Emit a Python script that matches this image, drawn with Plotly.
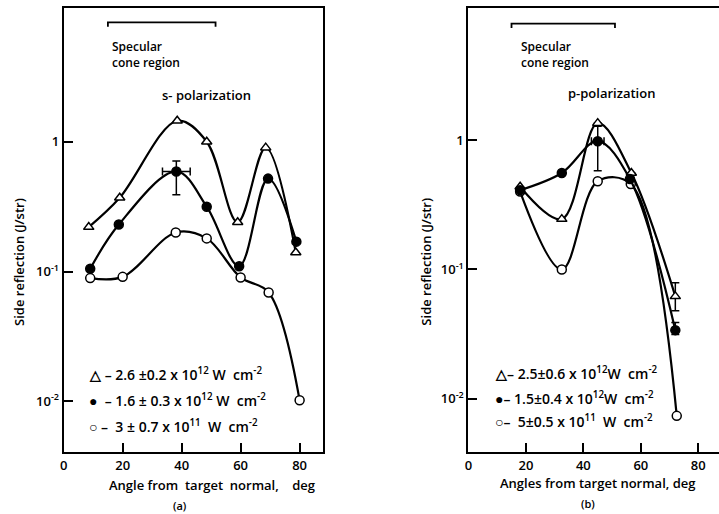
import plotly.graph_objects as go
import math

# ---------------- data: panel (a) s-polarization ----------------
a_tri_x = [8.5, 19, 38.5, 48.5, 59, 68.5, 78.7]
a_tri_y = [0.22, 0.37, 1.45, 1.0, 0.24, 0.9, 0.14]
a_dot_x = [9, 18.7, 38.2, 48.5, 59.5, 69.3, 78.9]
a_dot_y = [0.105, 0.23, 0.59, 0.316, 0.11, 0.52, 0.17]
a_dot_err_up = [0, 0, 0.12, 0, 0, 0, 0]
a_dot_err_dn = [0, 0, 0.20, 0, 0, 0, 0]
a_dot_xerr = [0, 0, 4.7, 0, 0, 0, 0]
a_circ_x = [9, 20, 38, 48.5, 60, 69.5, 80]
a_circ_y = [0.089, 0.091, 0.20, 0.18, 0.09, 0.069, 0.0102]

# ---------------- data: panel (b) p-polarization ----------------
b_tri_x = [18, 32.5, 45, 56.7, 72]
b_tri_y = [0.435, 0.245, 1.35, 0.556, 0.062]
b_tri_err_up = [0, 0, 0, 0, 0.017]
b_tri_err_dn = [0, 0, 0, 0, 0.014]
b_dot_x = [18, 32.5, 45, 56.2, 72]
b_dot_y = [0.41, 0.556, 0.98, 0.50, 0.034]
b_dot_err_up = [0, 0, 0.3, 0, 0.005]
b_dot_err_dn = [0, 0, 0.40, 0, 0.0025]
b_dot_xerr = [0, 0, 2.2, 0, 0]
b_circ_x = [18, 32.5, 45, 56.5, 72.5]
b_circ_y = [0.40, 0.10, 0.48, 0.457, 0.0074]

x_ticks = [0, 20, 40, 60, 80]
y_ticks = [1, 0.1, 0.01]
y_ticktext = ["1", "10<sup>-1</sup>", "10<sup>-2</sup>"]

legend_a = ["\u25b3 \u2013 2.6 \u00b10.2 x 10<sup>12</sup> W  cm<sup>-2</sup>",
            "\u25cf  \u2013 1.6 \u00b1 0.3 x 10<sup>12</sup> W  cm<sup>-2</sup>",
            "\u25cb \u2013  3 \u00b1 0.7 x 10<sup>11</sup>  W  cm<sup>-2</sup>"]
legend_b = ["\u25b3\u2013 2.5\u00b10.6 x 10<sup>12</sup>W  cm<sup>-2</sup>",
            "\u25cf\u2013 1.5\u00b10.4 x 10<sup>12</sup>W  cm<sup>-2</sup>",
            "\u25cb\u2013  5\u00b10.5 x 10<sup>11</sup>  W  cm<sup>-2</sup>"]

W, H = 719, 514
def px(x):
    return x / W
def py(y):
    return 1 - y / H

FONT = "Open Sans"
BLACK = "black"

fig = go.Figure()

def add_series(xs, ys, symbol, filled, xa, ya, err_up=None, err_dn=None, xerr=None):
    kw = {}
    if err_up is not None:
        kw["error_y"] = dict(type="data", symmetric=False, array=err_up,
                             arrayminus=err_dn, color=BLACK, thickness=1.5, width=4)
    if xerr is not None:
        kw["error_x"] = dict(type="data", array=xerr, color=BLACK,
                             thickness=1.5, width=4)
    fig.add_trace(go.Scatter(
        x=xs, y=ys, mode="lines+markers", xaxis=xa, yaxis=ya,
        line=dict(color=BLACK, width=2.2, shape="spline", smoothing=1.0),
        marker=dict(symbol=symbol, size=9, color=BLACK if filled else "white",
                    line=dict(color=BLACK, width=1.5)),
        showlegend=False, **kw))

add_series(a_tri_x, a_tri_y, "triangle-up", False, "x", "y")
add_series(a_dot_x, a_dot_y, "circle", True, "x", "y", a_dot_err_up, a_dot_err_dn, a_dot_xerr)
add_series(a_circ_x, a_circ_y, "circle", False, "x", "y")

add_series(b_circ_x, b_circ_y, "circle", False, "x2", "y2")
add_series(b_tri_x, b_tri_y, "triangle-up", False, "x2", "y2", b_tri_err_up, b_tri_err_dn)
add_series(b_dot_x, b_dot_y, "circle", True, "x2", "y2", b_dot_err_up, b_dot_err_dn, b_dot_xerr)

ydom = [py(452), py(8)]
axis_font = dict(family=FONT, size=13, color=BLACK, weight=600)
common_x = dict(tickvals=x_ticks, ticks="inside", ticklen=9, tickwidth=1.5,
                tickcolor=BLACK, showline=True, linecolor=BLACK, linewidth=2,
                showgrid=False, zeroline=False, tickfont=axis_font)
common_y = dict(type="log", tickvals=y_ticks, ticktext=y_ticktext, ticks="inside",
                ticklen=9, tickwidth=1.5, tickcolor=BLACK, showline=True,
                linecolor=BLACK, linewidth=2, showgrid=False, zeroline=False,
                tickfont=axis_font)

fig.update_layout(
    width=W, height=H, margin=dict(l=0, r=0, t=0, b=0),
    paper_bgcolor="white", plot_bgcolor="white",
    xaxis=dict(domain=[px(60), px(321)], range=[0, 88], mirror=True, anchor="y", **common_x),
    yaxis=dict(domain=ydom, range=[-2.39, 1.03], mirror=True, anchor="x", **common_y),
    xaxis2=dict(domain=[px(467), 1.0], range=[0, 87.2], mirror=True, anchor="y2", **common_x),
    yaxis2=dict(domain=ydom, range=[-2.41, 1.02], mirror=False, anchor="x2", **common_y),
)

ann = []
txt_font = dict(family=FONT, size=13, color=BLACK, weight=600)
spec_font = dict(family=FONT, size=12, color=BLACK, weight=600)
leg_font = dict(family=FONT, size=14, color=BLACK, weight=600)

def bracket(xref, yref, x0, x1, ytop, ybot):
    # path shapes on a log axis take raw data values
    yt, yb = 10 ** ytop, 10 ** ybot
    fig.add_shape(type="path", xref=xref, yref=yref,
                  path=f"M {x0},{yb} L {x0},{yt} L {x1},{yt} L {x1},{yb}",
                  line=dict(color=BLACK, width=1.8))

def A(x, y, text, xref, yref, font, xanchor="left", **kw):
    return dict(x=x, y=y, xref=xref, yref=yref, text=text, xanchor=xanchor,
                yanchor="middle", showarrow=False, font=font, **kw)

# panel a texts
bracket("x", "y", 15, 51.5, 0.92, 0.885)
ann += [
    A(15.8, 0.672, "Specular<br>cone region", "x", "y", spec_font, align="left"),
    A(32.5, 0.36, "s- polarization", "x", "y", txt_font),
]
for t, yv in zip(legend_a, [-1.79, -1.99, -2.19]):
    ann.append(A(7.8, yv, t, "x", "y", leg_font))

# panel b texts
bracket("x2", "y2", 15, 51, 0.90, 0.865)
ann += [
    A(17.5, 0.662, "Specular<br>cone region", "x2", "y2", spec_font, align="left"),
    A(34, 0.36, "p-polarization", "x2", "y2", txt_font),
]
for t, yv in zip(legend_b, [-1.8, -1.99, -2.17]):
    ann.append(A(8.5, yv, t, "x2", "y2", leg_font))

small = dict(family=FONT, size=11, color=BLACK, weight=600)
# axis titles
ann += [
    A(px(209), py(485), "Angle from  target  normal,    deg", "paper", "paper", txt_font, "center"),
    A(px(177), py(505), "(a)", "paper", "paper", small, "center"),
    A(px(597), py(483), "Angles from target normal, deg", "paper", "paper", txt_font, "center"),
    A(px(587), py(503), "(b)", "paper", "paper", small, "center"),
    A(px(15), py(262), "Side reflection (J/str)", "paper", "paper", txt_font, "center", textangle=-90),
    A(px(424), py(262), "Side reflection (J/str)", "paper", "paper", txt_font, "center", textangle=-90),
]
fig.update_layout(annotations=ann)

fig.write_html("out.html")
